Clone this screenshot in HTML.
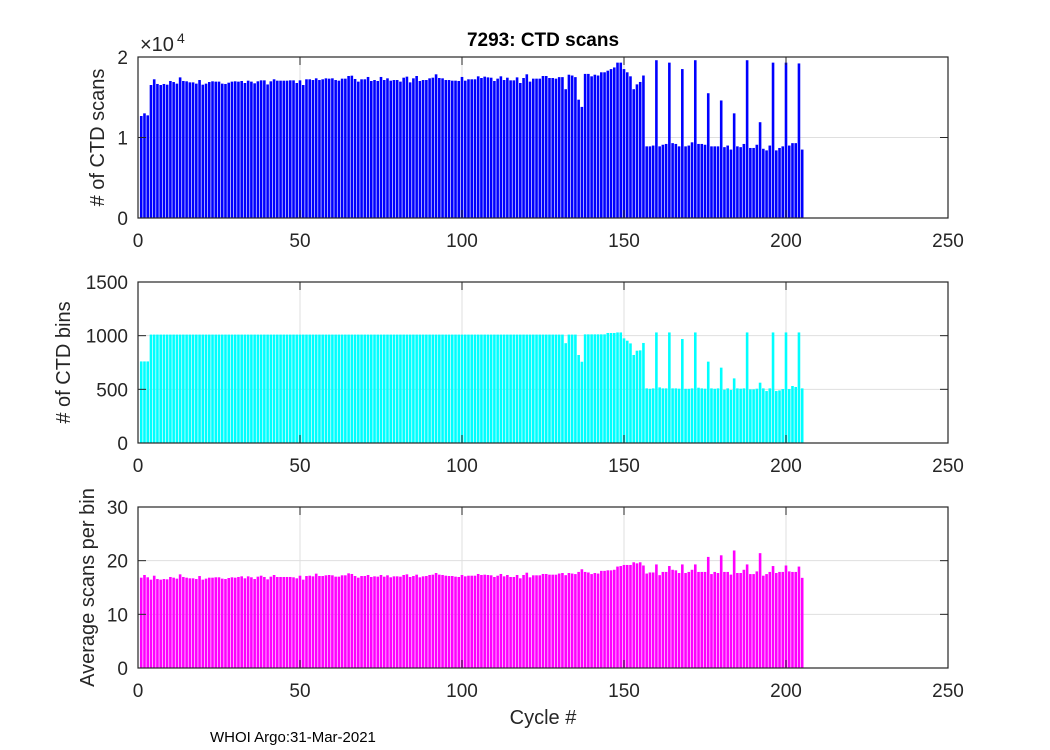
<!DOCTYPE html>
<html><head><meta charset="utf-8"><style>
body{margin:0;background:#fff;}
svg{display:block;font-family:"Liberation Sans",Arial,sans-serif;}
</style></head><body>
<svg id="chart" width="1050" height="750" viewBox="0 0 1050 750">
<rect width="1050" height="750" fill="#fff"/>
</svg>
<script>
// ---- data ----
const cycles = Array.from({length:205},(_, i)=>i+1);
const scans = [12670,13000,12750,16520,17230,16650,16520,16650,16560,17020,
16890,16690,17470,17020,16980,16850,16850,16690,17140,16560,
16690,16890,16980,16940,16940,16690,16650,16810,16940,16980,
16940,17020,16770,17060,16940,16730,16980,17100,17100,16590,
16980,17230,17060,17060,17060,17060,17100,17100,16770,17100,
16520,17230,17230,17140,17350,17140,17230,17350,17310,17350,
17140,17060,17310,17310,17640,17680,17270,16940,17230,17230,
17520,17020,17140,17020,17520,17140,17350,17060,17140,17140,
16940,17430,17560,16850,17350,17640,17020,17140,17140,17350,
17430,17850,17390,17350,17140,17140,17060,17060,17020,17520,
17060,17230,17230,17230,17600,17390,17560,17470,17430,17020,
17310,17600,17140,17430,17100,17100,17470,16770,17390,17850,
16940,17310,17310,17310,17640,17640,17390,17390,17310,
17500,17500,16000,17800,17700,17500,14700,13800,17900,17900,
17600,17800,17700,18100,18100,18300,18500,18700,19300,19300,
18500,18100,17600,16000,16600,16900,17700,8900,8900,9000,
19600,8900,9100,9200,19300,9300,9200,8900,18500,8900,
9000,9400,19600,9200,9200,9100,15500,8900,8900,8900,
14600,8800,9000,8500,13000,8900,8800,9200,19600,8700,
8700,9100,11900,8600,8400,9000,19300,8400,8700,8900,
19300,9000,9300,9300,19200,8500];
const bins = [760,760,760].concat(Array(126).fill(1010)).concat([
1010,1010,930,1010,1010,1010,820,757,1012,1012,
1012,1012,1012,1012,1012,1025,1025,1025,1030,1030,
975,953,928,820,860,863,932,509,505,509,
1030,518,509,509,1030,509,509,506,969,505,
505,509,1030,515,509,506,758,509,505,509,
702,497,509,494,602,509,506,509,1030,500,
500,506,562,509,484,509,1030,484,490,503,
1030,503,531,522,1030,509]);
const avgScans = [16.83,17.33,16.9,16.46,17.2,16.58,16.46,16.58,16.52,16.96,
16.83,16.65,17.45,16.96,16.83,16.71,16.71,16.58,17.14,16.46,
16.65,16.83,16.83,16.9,16.9,16.65,16.58,16.77,16.9,16.83,
16.96,17.08,16.71,17.08,16.9,16.58,17.02,17.2,16.96,16.52,
17.02,17.33,16.96,16.96,16.96,16.96,16.96,16.9,16.71,17.2,
16.46,17.14,17.2,17.08,17.58,17.14,17.14,17.27,17.33,17.27,
17.02,17.02,17.27,17.27,17.64,17.52,17.14,16.83,17.14,17.14,
17.33,16.96,17.08,17.02,17.33,17.02,17.27,16.9,17.08,17.08,
17.02,17.33,17.45,16.96,17.14,17.39,16.9,17.08,17.14,17.33,
17.39,17.7,17.39,17.33,17.2,17.14,17.14,17.02,16.96,17.33,
17.08,17.2,17.2,17.2,17.52,17.33,17.39,17.33,17.27,16.96,
17.2,17.52,17.08,17.33,16.96,16.96,17.33,16.71,17.33,17.76,
16.9,17.27,17.27,17.27,17.52,17.52,17.39,17.39,17.39,
17.6,17.7,17.3,17.7,17.6,17.5,17.9,18.4,17.9,17.8,
17.5,17.7,17.6,18.1,18.1,18.2,18.2,18.3,18.9,19.0,
19.2,19.2,19.2,19.7,19.5,19.7,19.1,17.6,17.8,17.8,
19.3,17.3,17.9,17.9,19.0,18.3,18.2,17.7,19.3,17.7,
17.9,18.3,19.3,17.9,17.9,17.9,20.7,17.5,17.9,17.7,
21.0,17.9,17.9,17.4,21.9,17.7,17.7,18.3,19.3,17.5,
17.5,18.0,21.4,17.2,17.5,17.9,19.0,17.7,17.9,17.9,
19.1,18.0,17.9,17.9,18.9,16.8];
const xTicks = [0,50,100,150,200,250];
const y1Ticks = [0,10000,20000], y1Labels = ["0","1","2"];
const y2Ticks = [0,500,1000,1500];
const y3Ticks = [0,10,20,30];

const NS="http://www.w3.org/2000/svg";
const svg=document.getElementById('chart');
function mk(tag,attrs,parent){const e=document.createElementNS(NS,tag);for(const k in attrs)e.setAttribute(k,attrs[k]);(parent||svg).appendChild(e);return e;}
const L=138,R=948;
const xs=v=>L+(v/250)*(R-L);

function panel(name,top,bot,ymax,yTicks,yLabels,vals,color,ylabel,ylx){
  const g=mk('g',{});
  
  
  const ys=v=>bot-(v/ymax)*(bot-top);
  xTicks.forEach(t=>{ if(t>0&&t<250){const l=mk('line',{x1:xs(t),x2:xs(t),y1:top,y2:bot,stroke:'#dfdfdf','stroke-width':1},g);
    }});
  yTicks.forEach(t=>{ if(t>0&&t<ymax){const l=mk('line',{x1:L,x2:R,y1:ys(t),y2:ys(t),stroke:'#dfdfdf','stroke-width':1},g);
    }});
  const bw=(R-L)/250*0.8;
  vals.forEach((v,i)=>{const c=cycles[i];const r=mk('rect',{x:xs(c)-bw/2,y:ys(v),width:bw,height:bot-ys(v),fill:color},g);
    
    });
  const f=mk('rect',{x:L,y:top,width:R-L,height:bot-top,fill:'none',stroke:'#262626','stroke-width':1.2},g);
  
  xTicks.forEach(t=>{mk('line',{x1:xs(t),x2:xs(t),y1:bot,y2:bot-8,stroke:'#262626'},g);mk('line',{x1:xs(t),x2:xs(t),y1:top,y2:top+8,stroke:'#262626'},g);
    const tx=mk('text',{x:xs(t),y:bot+29,'text-anchor':'middle','font-size':19,fill:'#262626'},g);tx.textContent=t;
    });
  yTicks.forEach((t,i)=>{mk('line',{x1:L,x2:L+8,y1:ys(t),y2:ys(t),stroke:'#262626'},g);mk('line',{x1:R,x2:R-8,y1:ys(t),y2:ys(t),stroke:'#262626'},g);
    const tx=mk('text',{x:L-10,y:ys(t)+7,'text-anchor':'end','font-size':19,fill:'#262626'},g);tx.textContent=yLabels?yLabels[i]:t;
    });
  const yl=mk('text',{x:ylx,y:(top+bot)/2,'text-anchor':'middle','font-size':20,fill:'#262626',transform:`rotate(-90 ${ylx} ${(top+bot)/2})`},g);
  yl.textContent=ylabel;
  
}
panel('scans',57,218,20000,y1Ticks,y1Labels,scans,'#0000ff','# of CTD scans',104);
panel('bins',282,443,1500,y2Ticks,null,bins,'#00ffff','# of CTD bins',70);
panel('avg',507,668,30,y3Ticks,null,avgScans,'#ff00ff','Average scans per bin',94);

function txt(x,y,s,size,name,extra){const t=mk('text',Object.assign({x:x,y:y,'font-size':size,fill:'#000'},extra||{}));t.textContent=s;
  return t;}
txt(543,46,'7293: CTD scans',19,'chart-title',{'text-anchor':'middle','font-weight':'bold'});
txt(140,51,'×10',20,'y-axis-exponent',{fill:'#262626'});
txt(177,43,'4',14,'y-axis-exponent-power',{fill:'#262626'});
txt(543,724,'Cycle #',20,'x-axis-title',{'text-anchor':'middle','fill':'#262626'});
txt(210,742,'WHOI Argo:31-Mar-2021',15,'footer-note');
</script>
</body></html>
